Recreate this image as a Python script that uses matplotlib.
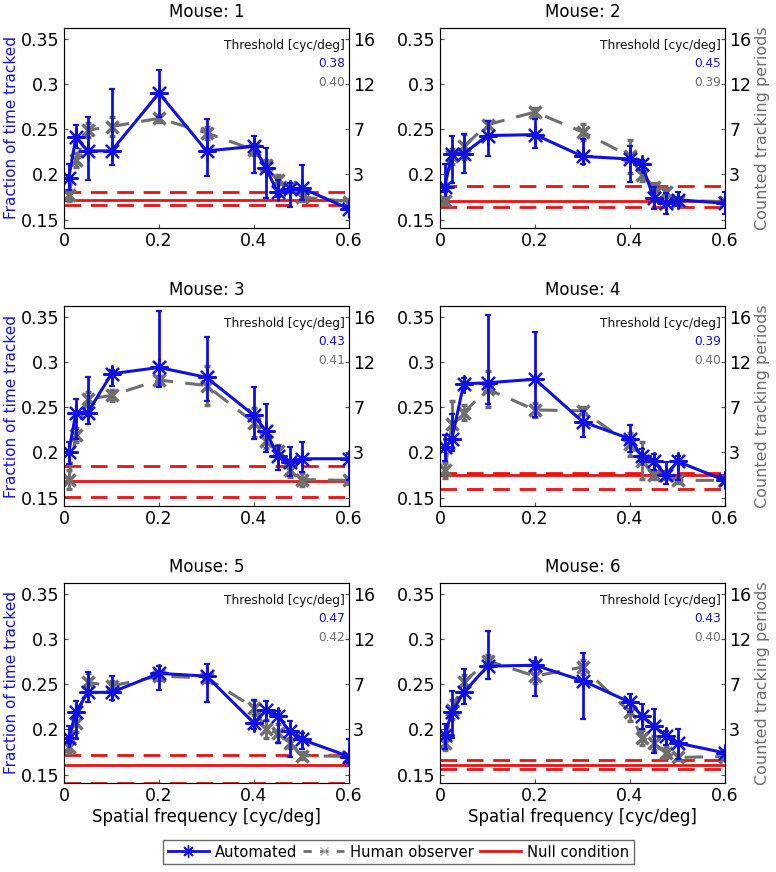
import matplotlib
matplotlib.use('Agg')
import matplotlib.pyplot as plt
from matplotlib.lines import Line2D
import numpy as np

plt.rcParams['font.family'] = ['DejaVu Sans']

BLUE = '#1010e0'
GRAY = '#6e6e6e'
RED = '#ee1111'

freqs = [0.01, 0.025, 0.05, 0.1, 0.2, 0.3, 0.4, 0.425, 0.45, 0.475, 0.5, 0.6]

# automated (fraction of time tracked), with lower / upper error bar ends
auto_mean = [
    [0.196, 0.241, 0.226, 0.226, 0.290, 0.226, 0.231, 0.207, 0.180, 0.184, 0.185, 0.162],
    [0.186, 0.223, 0.223, 0.243, 0.244, 0.220, 0.217, 0.211, 0.174, 0.168, 0.172, 0.168],
    [0.200, 0.244, 0.244, 0.287, 0.294, 0.283, 0.241, 0.224, 0.196, 0.189, 0.193, 0.193],
    [0.206, 0.215, 0.276, 0.277, 0.281, 0.234, 0.215, 0.196, 0.190, 0.175, 0.190, 0.169],
    [0.190, 0.219, 0.241, 0.241, 0.262, 0.259, 0.207, 0.221, 0.215, 0.198, 0.189, 0.170],
    [0.194, 0.219, 0.241, 0.270, 0.271, 0.254, 0.230, 0.215, 0.204, 0.193, 0.185, 0.174],
]
auto_lo = [
    [0.183, 0.229, 0.194, 0.210, 0.264, 0.198, 0.202, 0.174, 0.175, 0.164, 0.172, 0.160],
    [0.181, 0.190, 0.202, 0.220, 0.229, 0.211, 0.192, 0.205, 0.162, 0.156, 0.165, 0.156],
    [0.187, 0.215, 0.231, 0.274, 0.272, 0.257, 0.215, 0.200, 0.181, 0.174, 0.178, 0.170],
    [0.191, 0.202, 0.270, 0.254, 0.239, 0.217, 0.200, 0.189, 0.180, 0.165, 0.170, 0.166],
    [0.185, 0.189, 0.230, 0.233, 0.244, 0.230, 0.200, 0.209, 0.185, 0.170, 0.178, 0.163],
    [0.178, 0.191, 0.228, 0.256, 0.237, 0.211, 0.219, 0.200, 0.174, 0.183, 0.167, 0.171],
]
auto_hi = [
    [0.211, 0.255, 0.264, 0.295, 0.316, 0.261, 0.242, 0.229, 0.194, 0.190, 0.210, 0.165],
    [0.212, 0.242, 0.245, 0.259, 0.261, 0.239, 0.231, 0.216, 0.186, 0.179, 0.180, 0.180],
    [0.211, 0.259, 0.283, 0.291, 0.356, 0.328, 0.272, 0.254, 0.207, 0.206, 0.211, 0.198],
    [0.219, 0.243, 0.282, 0.352, 0.333, 0.246, 0.230, 0.204, 0.198, 0.189, 0.196, 0.172],
    [0.204, 0.231, 0.263, 0.259, 0.270, 0.272, 0.233, 0.231, 0.220, 0.209, 0.196, 0.189],
    [0.206, 0.243, 0.267, 0.309, 0.276, 0.285, 0.239, 0.228, 0.223, 0.198, 0.200, 0.177],
]

# human observer, drawn in the same vertical units (right axis: counted periods)
human_mean = [
    [0.177, 0.216, 0.249, 0.253, 0.262, 0.246, 0.227, 0.210, 0.194, 0.186, 0.175, 0.170],
    [0.171, 0.220, 0.231, 0.255, 0.269, 0.247, 0.220, 0.199, 0.186, 0.180, 0.171, 0.170],
    [0.170, 0.219, 0.259, 0.263, 0.280, 0.274, 0.233, 0.213, 0.202, 0.180, 0.170, 0.169],
    [0.180, 0.231, 0.244, 0.270, 0.247, 0.246, 0.209, 0.191, 0.175, 0.175, 0.169, 0.169],
    [0.180, 0.207, 0.252, 0.248, 0.259, 0.257, 0.224, 0.200, 0.196, 0.185, 0.171, 0.170],
    [0.185, 0.222, 0.252, 0.276, 0.259, 0.269, 0.219, 0.191, 0.185, 0.174, 0.169, 0.170],
]
human_err = [
    [0.006, 0.008, 0.008, 0.010, 0.004, 0.007, 0.006, 0.006, 0.005, 0.005, 0.004, 0.003],
    [0.004, 0.008, 0.014, 0.004, 0.004, 0.009, 0.018, 0.006, 0.005, 0.005, 0.004, 0.003],
    [0.010, 0.008, 0.008, 0.006, 0.004, 0.022, 0.016, 0.008, 0.006, 0.007, 0.007, 0.004],
    [0.008, 0.026, 0.008, 0.020, 0.008, 0.004, 0.013, 0.020, 0.004, 0.004, 0.003, 0.003],
    [0.006, 0.010, 0.010, 0.006, 0.004, 0.004, 0.008, 0.010, 0.010, 0.006, 0.004, 0.003],
    [0.008, 0.010, 0.008, 0.006, 0.008, 0.008, 0.010, 0.008, 0.008, 0.006, 0.003, 0.003],
]

# null condition: mean, lower, upper
null_mean = [0.172, 0.171, 0.168, 0.175, 0.161, 0.161]
null_lo = [0.166, 0.164, 0.151, 0.159, 0.141, 0.156]
null_hi = [0.181, 0.187, 0.185, 0.177, 0.172, 0.166]

thr_auto = ['0.38', '0.45', '0.43', '0.39', '0.47', '0.43']
thr_human = ['0.40', '0.39', '0.41', '0.40', '0.42', '0.40']

yticks = [0.15, 0.2, 0.25, 0.3, 0.35]
ytick_labels = ['0.15', '0.2', '0.25', '0.3', '0.35']
right_labels = ['', '3', '7', '12', '16']
xticks = [0, 0.2, 0.4, 0.6]
xtick_labels = ['0', '0.2', '0.4', '0.6']

W, H = 776, 872
fig = plt.figure(figsize=(W / 100, H / 100), dpi=100)

col_left = [64, 440]
row_top = [28, 306, 583]
aw, ah = 285, 200

star = (8, 2, 0)
red_dash = (0, (6, 3.5))
gray_dash = (0, (6, 4))

for i in range(6):
    r, c = i // 2, i % 2
    ax = fig.add_axes([col_left[c] / W, 1 - (row_top[r] + ah) / H, aw / W, ah / H])
    x = np.array(freqs)

    ax.axhline(null_mean[i], color=RED, lw=2, zorder=1)
    ax.axhline(null_lo[i], color=RED, lw=2, ls=red_dash, zorder=1)
    ax.axhline(null_hi[i], color=RED, lw=2, ls=red_dash, zorder=1)

    ax.errorbar(x, human_mean[i], yerr=human_err[i], color=GRAY, lw=2.2,
                ls=gray_dash, marker='x', ms=9, mew=2.5, capsize=2.5,
                elinewidth=2, capthick=2, zorder=2)
    m = np.array(auto_mean[i])
    lo = m - np.array(auto_lo[i])
    hi = np.array(auto_hi[i]) - m
    ax.errorbar(x, m, yerr=[lo, hi], color=BLUE, lw=2.2, marker=star, ms=13,
                mew=1.6, capsize=2.5, elinewidth=2, capthick=2, zorder=3)

    ax.set_xlim(0, 0.6)
    ax.set_ylim(0.1407, 0.362)
    ax.set_xticks(xticks)
    ax.set_xticklabels(xtick_labels)
    ax.set_yticks(yticks)
    ax.set_yticklabels(ytick_labels)
    ax.tick_params(direction='in', length=3, labelsize=12.5, pad=3, color='#555555')
    for s in ax.spines.values():
        s.set_color('#555555')

    ax2 = ax.twinx()
    ax2.set_ylim(ax.get_ylim())
    ax2.set_yticks(yticks)
    ax2.set_yticklabels(right_labels)
    ax2.tick_params(direction='in', length=3, labelsize=12.5, pad=3, color='#555555')

    ax.set_title('Mouse: %d' % (i + 1), fontsize=12, pad=8)

    ax.text(0.986, 0.911, 'Threshold [cyc/deg]', transform=ax.transAxes,
            ha='right', va='center', fontsize=8.7, color='#111111')
    ax.text(0.986, 0.821, thr_auto[i], transform=ax.transAxes,
            ha='right', va='center', fontsize=8.7, color=BLUE)
    ax.text(0.986, 0.727, thr_human[i], transform=ax.transAxes,
            ha='right', va='center', fontsize=8.7, color=GRAY)

    if c == 0:
        ax.set_ylabel('Fraction of time tracked', color=BLUE, fontsize=11, labelpad=2)
    else:
        ax2.set_ylabel('Counted tracking periods', color=GRAY, fontsize=11.5, labelpad=3)
    if r == 2:
        ax.set_xlabel('Spatial frequency [cyc/deg]', fontsize=12, labelpad=2)

handles = [
    Line2D([], [], color=BLUE, lw=2, marker=star, ms=9, mew=1),
    Line2D([], [], color=GRAY, lw=2, ls=(0, (3, 3)), marker='x', ms=6, mew=1, markeredgecolor='#aaaaaa'),
    Line2D([], [], color=RED, lw=2),
]
fig.legend(handles, ['Automated', 'Human observer', 'Null condition'],
           loc='center', bbox_to_anchor=(398.5 / W, 1 - 852 / H), ncol=3,
           fontsize=10.6, frameon=True, fancybox=False, edgecolor='#444444',
           handlelength=2.8, handletextpad=0.4, columnspacing=0.4,
           borderpad=0.3, borderaxespad=0)

fig.savefig('out.png', dpi=100)
